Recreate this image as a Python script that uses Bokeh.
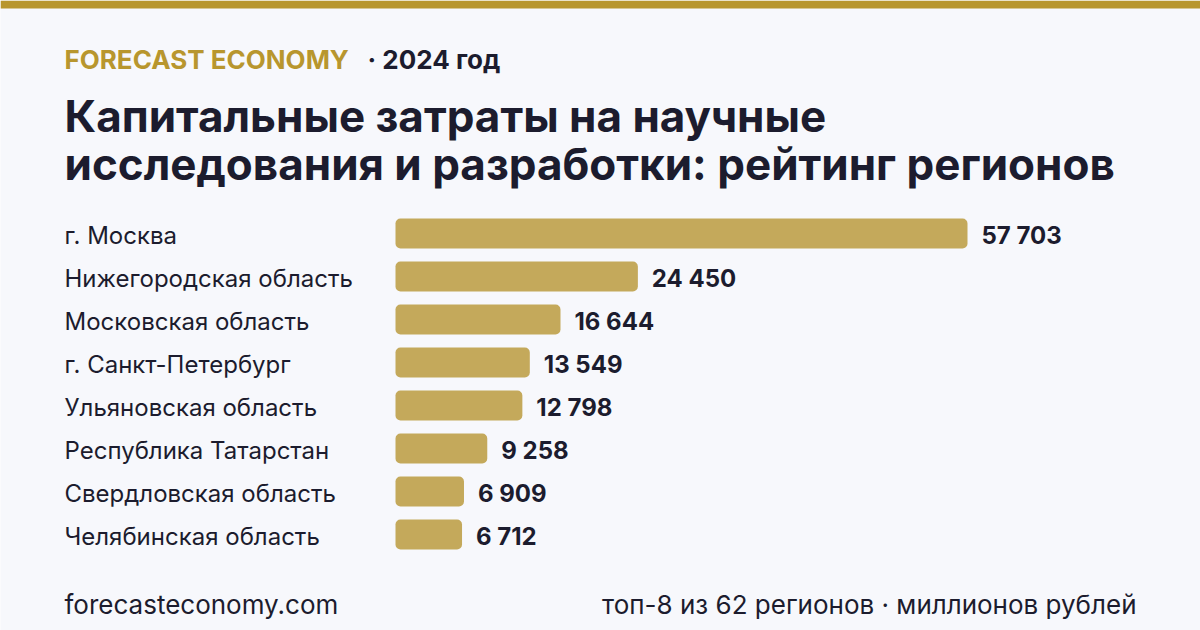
from bokeh.plotting import figure
from bokeh.models import Range1d, Label, BoxAnnotation, ColumnDataSource
from bokeh.core.properties import value
from bokeh.embed import file_html
from bokeh.resources import INLINE

regions = ["г. Москва", "Нижегородская область", "Московская область", "г. Санкт-Петербург",
           "Ульяновская область", "Республика Татарстан", "Свердловская область", "Челябинская область"]
values = [57703, 24450, 16644, 13549, 12798, 9258, 6909, 6712]
value_labels = ["57 703", "24 450", "16 644", "13 549", "12 798", "9 258", "6 909", "6 712"]

W, H = 1200, 630
BG = "#F7F8FC"
GOLD = "#B8962E"
BAR = "#C4A95B"
DARK = "#1C1C2E"
FONT = "Inter"

# layout geometry (pixels)
bar_x0 = 395
bar_max_px = 572
row0 = 233
row_step = 43
k = bar_max_px / max(values)

p = figure(width=W, height=H, output_backend="svg", toolbar_location=None,
           x_range=Range1d(-bar_x0 / k, (W - bar_x0) / k),
           y_range=Range1d((H - row0) / row_step, -row0 / row_step),
           min_border=0, background_fill_color=BG, border_fill_color=BG)
p.axis.visible = False
p.grid.visible = False
p.outline_line_color = None

ys = list(range(len(regions)))
src = ColumnDataSource(dict(y=ys, v=values, name=regions, lab=value_labels))

p.hbar(y="y", left=0, right="v", height=30 / row_step, source=src,
       fill_color=BAR, line_color=None, border_radius=5)

p.text(x=0, y="y", text="name", source=src, x_offset=-(bar_x0 - 64), y_offset=2,
       text_font=value(FONT), text_font_size="24px", text_color=DARK,
       text_baseline="middle", text_align="left")
p.text(x="v", y="y", text="lab", source=src, x_offset=14, y_offset=2,
       text_font=value(FONT), text_font_size="24px", text_font_style="bold",
       text_color=DARK, text_baseline="middle", text_align="left")

# top gold band
p.add_layout(BoxAnnotation(top=-row0 / row_step, bottom=-(row0 - 8) / row_step,
                           fill_color=GOLD, fill_alpha=1, line_color=None))

def lab(text, x, baseline, size, color, bold=False, align="left"):
    # empirical compensation so that the alphabetic baseline lands at `baseline`
    adj = baseline - 0.385 * size
    p.add_layout(Label(x=x, y=H - adj, x_units="screen", y_units="screen", text=text,
                       text_font=FONT, text_font_size=f"{size}px", text_color=color,
                       text_font_style="bold" if bold else "normal",
                       text_align=align, text_baseline="alphabetic"))

lab("FORECAST ECONOMY", 64, 69, 26, GOLD, bold=True)
lab("· 2024 год", 367, 69, 26, DARK, bold=True)
lab("Капитальные затраты на научные", 64, 132, 44, DARK, bold=True)
lab("исследования и разработки: рейтинг регионов", 64, 180, 44, DARK, bold=True)
lab("forecasteconomy.com", 64, 614, 26, DARK)
lab("топ-8 из 62 регионов · миллионов рублей", 1136, 614, 26, DARK, align="right")

open("out.html", "w").write(file_html(p, INLINE))
